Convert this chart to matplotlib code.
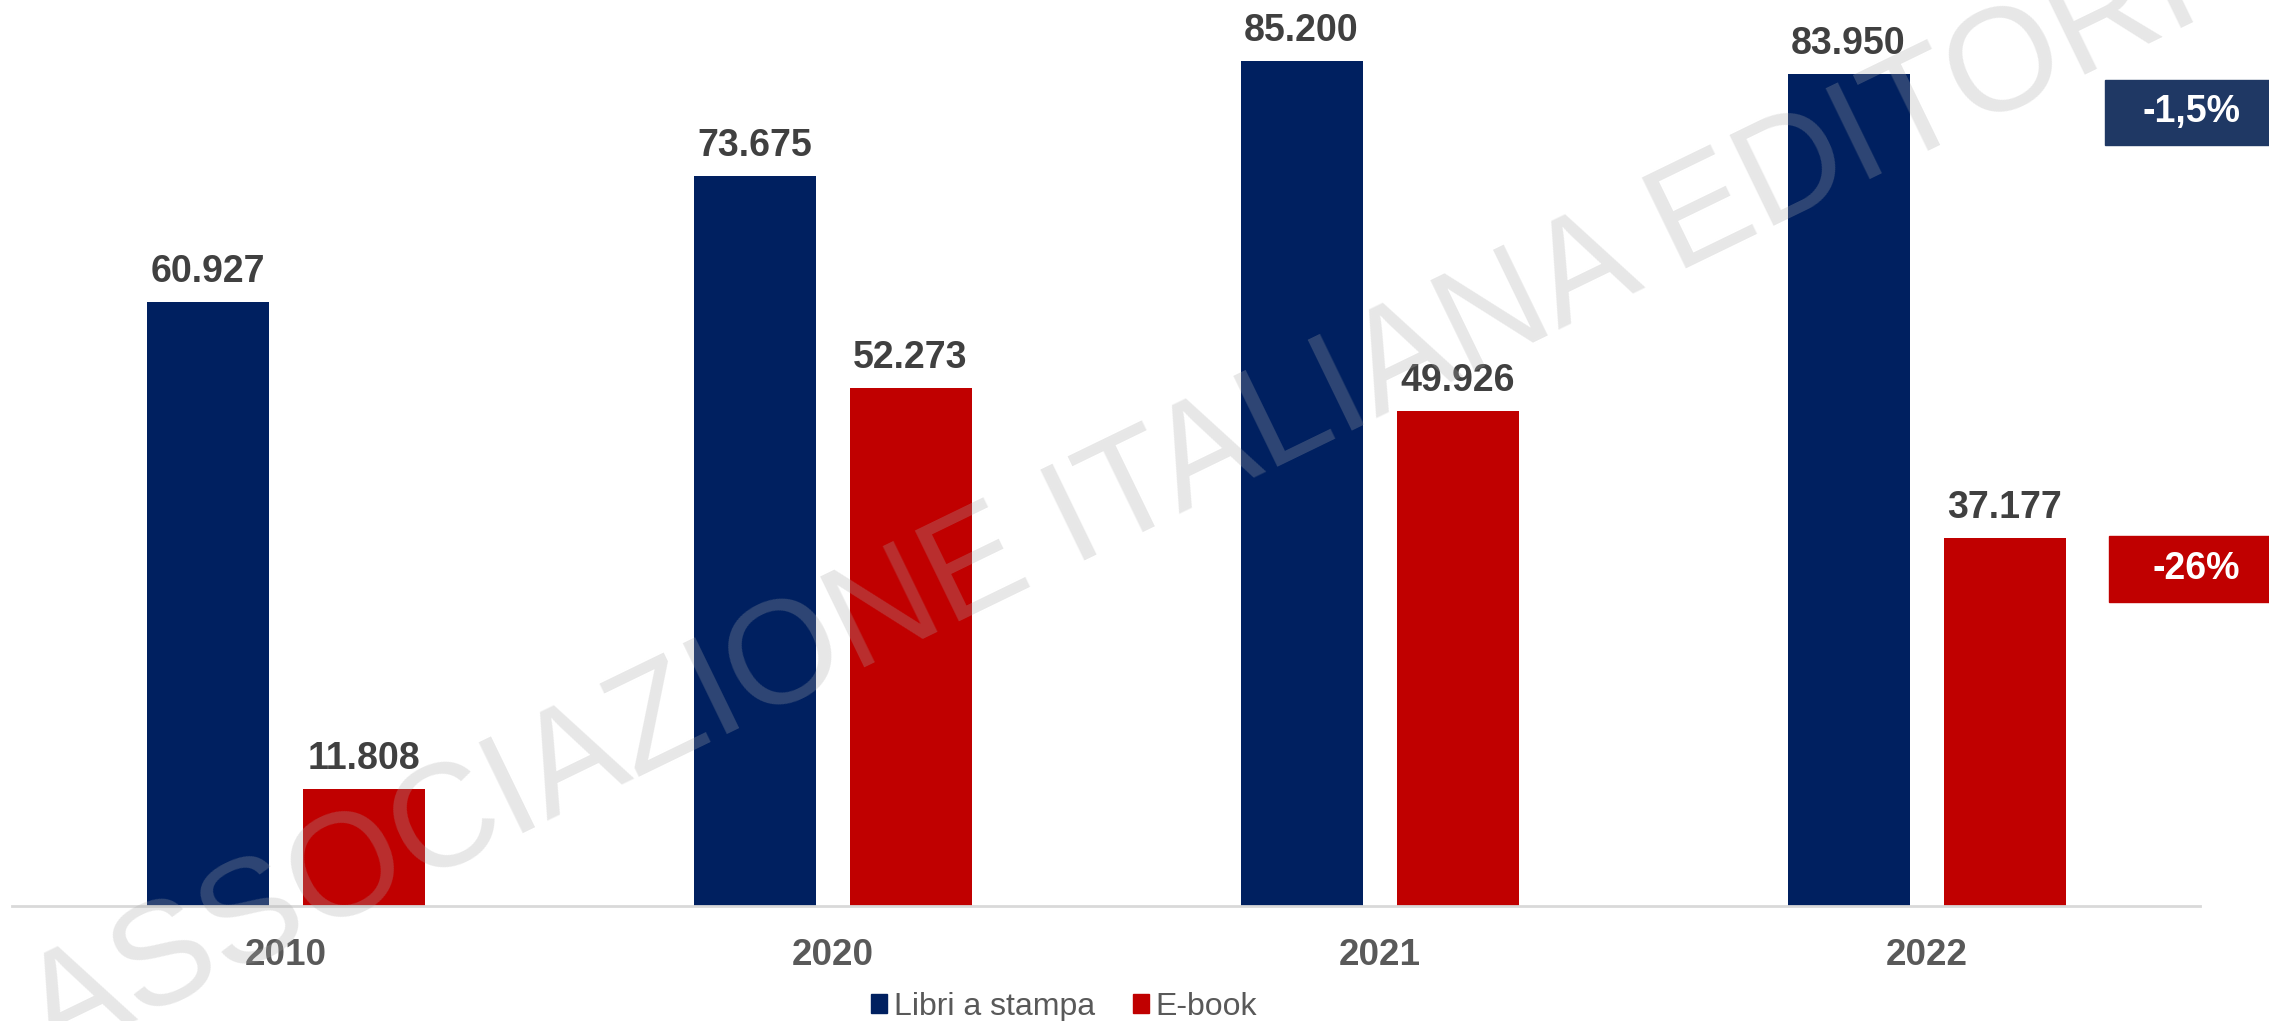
import matplotlib.pyplot as plt
import matplotlib.patches as mpatches
import numpy as np

plt.rcParams['font.family'] = ['Liberation Sans', 'DejaVu Sans']

# data
years = ['2010', '2020', '2021', '2022']
libri_stampa = [60927, 73675, 85200, 83950]
ebook = [11808, 52273, 49926, 37177]
series_names = ['Libri a stampa', 'E-book']
change_labels = ['-1,5%', '-26%']

blue = '#002060'
red = '#C00000'

fig = plt.figure(figsize=(22.69, 10.21), dpi=100)
ax = fig.add_axes([0.0053, 0.1126, 0.9643, 0.8874])

x = np.arange(len(years))
w = 0.223
off = 0.1426
b1 = ax.bar(x - off, libri_stampa, w, color=blue, zorder=2)
b2 = ax.bar(x + off, ebook, w, color=red, zorder=2)

# value labels above bars
def fmt(v):
    return f'{v:,}'.replace(',', '.')

for bars, vals in [(b1, libri_stampa), (b2, ebook)]:
    for rect, v in zip(bars, vals):
        ax.annotate(fmt(v), (rect.get_x() + rect.get_width() / 2, v),
                    xytext=(0, 14.4), textcoords='offset points',
                    ha='center', va='baseline', fontsize=27,
                    fontweight='bold', color='#404040')

ax.set_xlim(-0.5, len(years) - 0.5)
ax.set_ylim(0, 91400)
ax.set_xticks(x)
ax.set_xticklabels(years, fontsize=26.5, fontweight='bold', color='#595959')
ax.tick_params(axis='x', length=0, pad=23)
ax.set_yticks([])
for s in ['top', 'right', 'left']:
    ax.spines[s].set_visible(False)
ax.spines['bottom'].set_color('#D9D9D9')
ax.spines['bottom'].set_linewidth(2)

# change boxes on the right
fig.patches.append(mpatches.Rectangle((2105 / 2269, 1 - 145 / 1021), 164 / 2269, 65 / 1021,
                                      transform=fig.transFigure, color='#1F3864', zorder=5))
fig.patches.append(mpatches.Rectangle((2109 / 2269, 1 - 602 / 1021), 160 / 2269, 66 / 1021,
                                      transform=fig.transFigure, color=red, zorder=5))
fig.text(2192 / 2269, 1 - 112 / 1021, change_labels[0], ha='center', va='center',
         fontsize=27, fontweight='bold', color='white', zorder=6)
fig.text(2196 / 2269, 1 - 569 / 1021, change_labels[1], ha='center', va='center',
         fontsize=27, fontweight='bold', color='white', zorder=6)

# legend
handles = [mpatches.Patch(color=blue, label=series_names[0]),
           mpatches.Patch(color=red, label=series_names[1])]
fig.legend(handles=handles, loc='center', bbox_to_anchor=(0.469, 0.014), ncol=2,
           frameon=False, fontsize=23, labelcolor='#595959', handlelength=0.5,
           handleheight=0.54, handletextpad=0.22, columnspacing=1.17,
           borderpad=0, borderaxespad=0)

# watermark
fig.text(0.0229, -0.0402, 'ASSOCIAZIONE ITALIANA EDITORI', rotation=25.9,
         rotation_mode='anchor', ha='left', va='baseline', fontsize=105,
         color='#aaaaaa', alpha=0.28, zorder=4)

fig.savefig('out.png', dpi=100)
